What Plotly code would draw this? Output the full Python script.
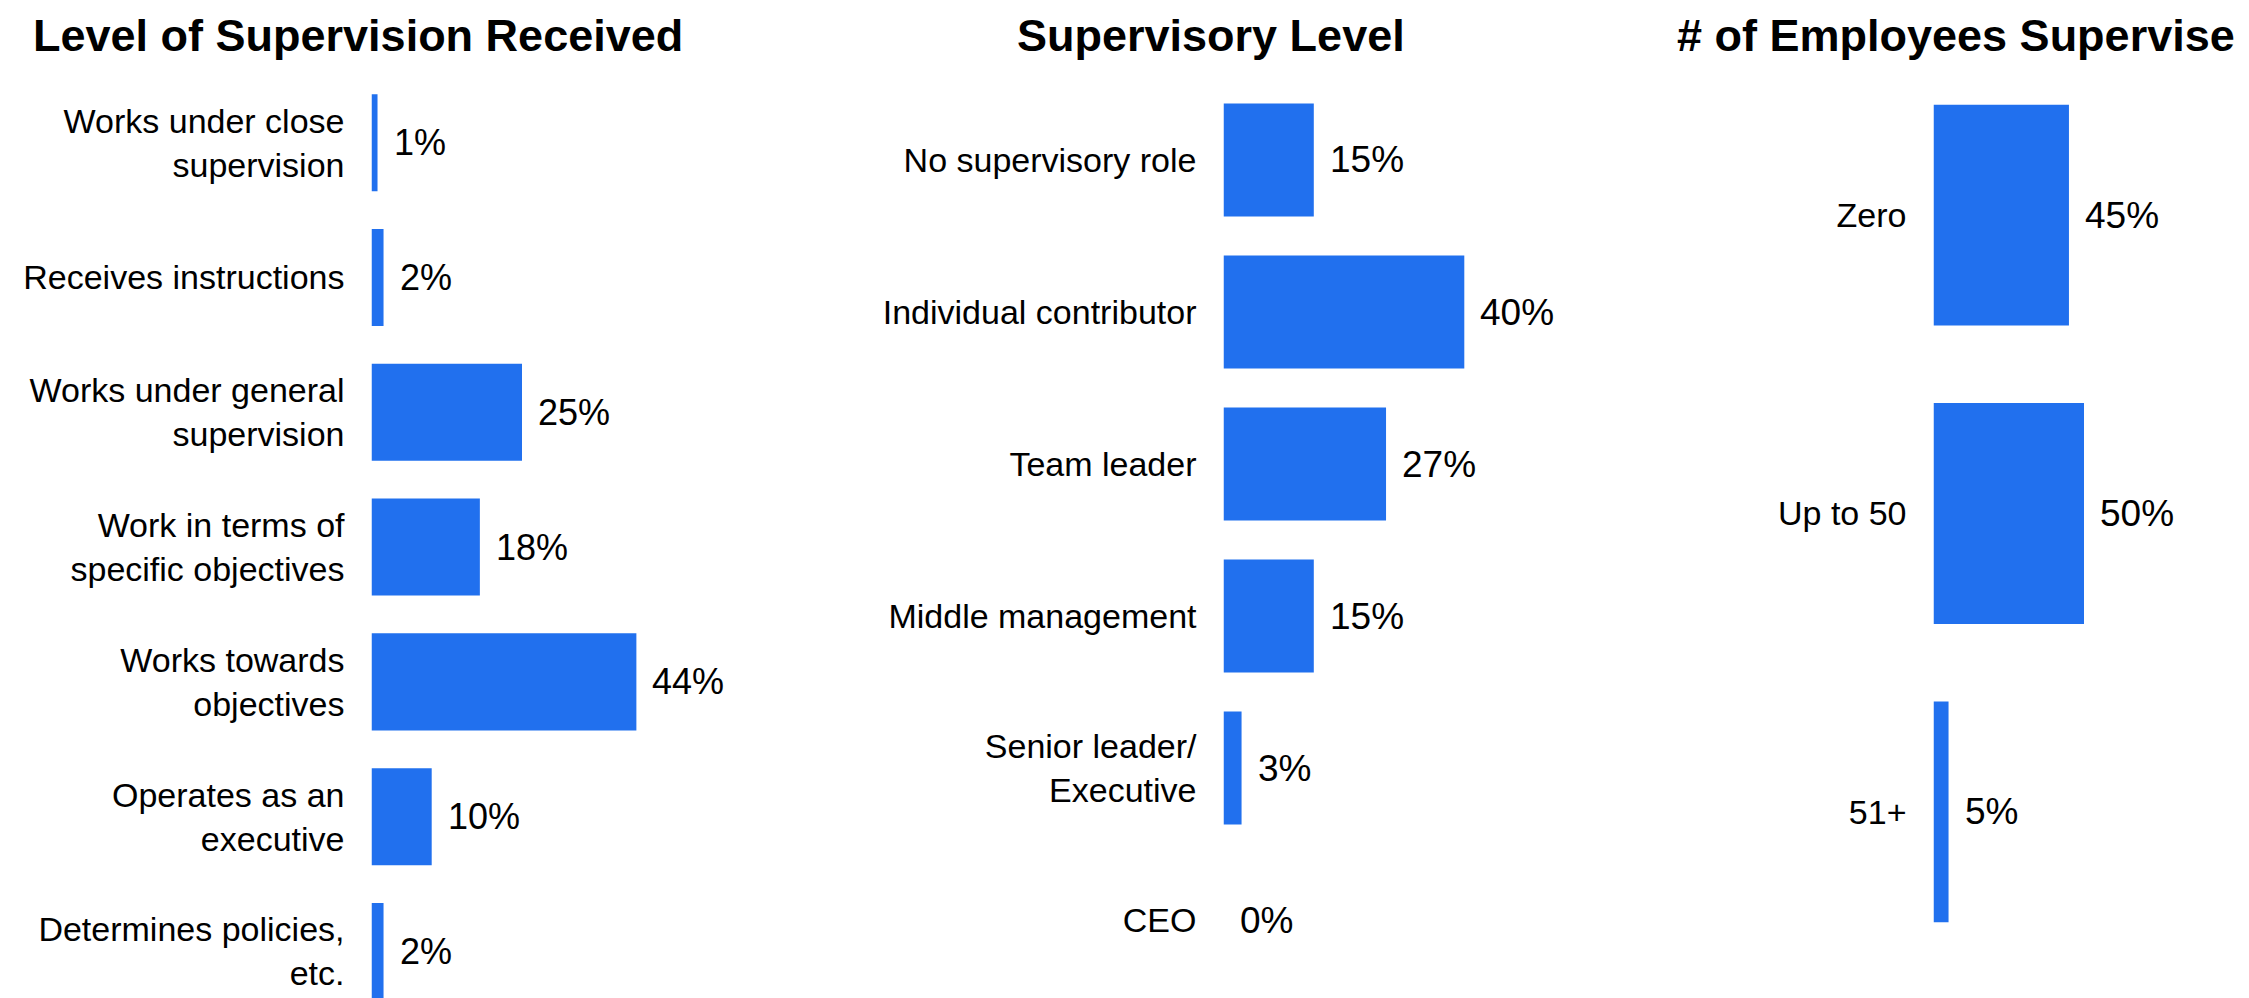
import plotly.graph_objects as go

# values (percent)
recv_labels = ["Works under close<br>supervision", "Receives instructions",
               "Works under general<br>supervision", "Work in terms of<br>specific objectives",
               "Works towards<br>objectives", "Operates as an<br>executive",
               "Determines policies,<br>etc."]
recv_values = [1, 2, 25, 18, 44, 10, 2]

level_labels = ["No supervisory role", "Individual contributor", "Team leader",
                "Middle management", "Senior leader/<br>Executive", "CEO"]
level_values = [15, 40, 27, 15, 3, 0]

emp_labels = ["Zero", "Up to 50", "51+"]
emp_values = [45, 50, 5]

titles = ["Level of Supervision Received", "Supervisory Level", "# of Employees Supervise"]

W, H = 2249, 998
OFF = 8  # page body margin, positions below are screen pixels
BLUE = "#2170ee"
ARIAL = "Liberation Sans, Arial, sans-serif"

fig = go.Figure()

panels = [
    dict(lab=recv_labels, val=recv_values, x0=371.5, y0=75.3, y1=998, yr=[6.345, -0.5],
         xmax=50, bw=0.72, lf=34, vf=36),
    dict(lab=level_labels, val=level_values, x0=1223.5, y0=84, y1=996, yr=[5.5, -0.5],
         xmax=50, bw=0.745, lf=34, vf=37),
    dict(lab=emp_labels, val=emp_values, x0=1933.5, y0=66, y1=961, yr=[2.5, -0.5],
         xmax=100, bw=0.74, lf=34, vf=37),
]

for i, p in enumerate(panels, start=1):
    xa = "x" if i == 1 else "x%d" % i
    ya = "y" if i == 1 else "y%d" % i
    x0 = p["x0"] - OFF
    fig.add_trace(go.Bar(x=p["val"], y=p["lab"], orientation="h", width=p["bw"],
                         marker=dict(color=BLUE, line=dict(width=0)),
                         xaxis=xa, yaxis=ya, showlegend=False, hoverinfo="skip"))
    fig.update_layout(**{
        ("xaxis" if i == 1 else "xaxis%d" % i): dict(
            domain=[x0 / W, (x0 + 6.02 * 50) / W], range=[0, p["xmax"]],
            visible=False, fixedrange=True, anchor=ya),
        ("yaxis" if i == 1 else "yaxis%d" % i): dict(
            domain=[max(0, 1 - (p["y1"] - OFF) / H), 1 - (p["y0"] - OFF) / H],
            range=p["yr"], type="category",
            categoryorder="array", categoryarray=p["lab"], showgrid=False, zeroline=False,
            showline=False, ticks="", ticklabelstandoff=26,
            tickfont=dict(family=ARIAL, size=p["lf"], color="black"),
            anchor=xa, fixedrange=True),
    })
    for lab, v in zip(p["lab"], p["val"]):
        fig.add_annotation(x=v, y=lab, xref=xa, yref=ya, text="%d%%" % v, showarrow=False,
                           xanchor="left", yanchor="middle", xshift=14,
                           font=dict(family=ARIAL, size=p["vf"], color="black"))

title_x = [358, 1211, 1956]
for t, tx in zip(titles, title_x):
    fig.add_annotation(x=(tx - OFF) / W, y=1, xref="paper", yref="paper",
                       text="<b>%s</b>" % t, showarrow=False, xanchor="center", yanchor="top",
                       font=dict(family=ARIAL, size=45, color="black"))

fig.update_layout(width=W, height=H, margin=dict(l=0, r=0, t=0, b=0),
                  paper_bgcolor="white", plot_bgcolor="white", bargap=0.28)

fig.write_html("out.html")
